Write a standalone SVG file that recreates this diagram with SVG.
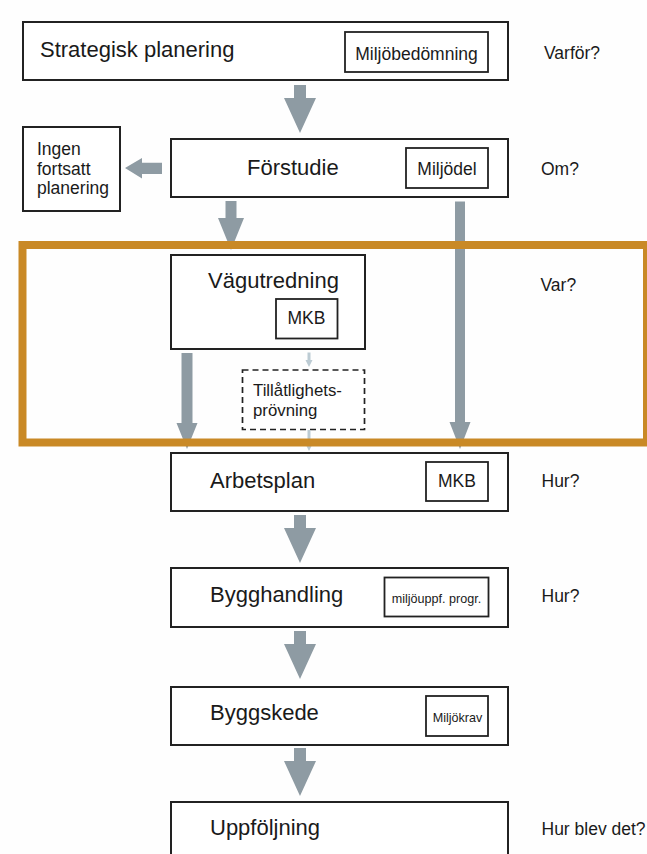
<svg xmlns="http://www.w3.org/2000/svg" width="647" height="854" viewBox="0 0 647 854">
<style>
  .box{fill:#ffffff;stroke:#222222;stroke-width:2}
  .ibox{fill:#ffffff;stroke:#222222;stroke-width:1.8}
  .dash{fill:#ffffff;stroke:#222222;stroke-width:1.7;stroke-dasharray:6 4}
  .t{font-family:"Liberation Sans",Arial,sans-serif;fill:#1a1a1a}
  .big{font-size:22px}
  .mid{font-size:17.5px}
  .tl{font-size:16.8px}
  .sm{font-size:12.6px}
  .arr{fill:#8e9ba3}
  .larr{fill:#bccbd3}
  .frame{fill:none;stroke:#c98926;stroke-width:8}
</style>
<rect x="0" y="0" width="647" height="854" fill="#fefefe"/>

<g id="strategisk">
  <rect class="box" x="23" y="22" width="485" height="58"/>
  <text class="t big" x="40" y="57">Strategisk planering</text>
  <rect class="ibox" x="345" y="32" width="143" height="40"/>
  <text class="t mid" x="416.5" y="60" text-anchor="middle">Miljöbedömning</text>
</g>
<g id="forstudie">
  <rect class="box" x="171" y="139" width="337" height="58"/>
  <text class="t big" x="247" y="175">Förstudie</text>
  <rect class="ibox" x="406" y="148" width="82" height="40"/>
  <text class="t mid" x="447" y="175" text-anchor="middle">Miljödel</text>
</g>
<g id="ingen">
  <rect class="box" x="23" y="127" width="97" height="84"/>
  <text class="t mid" x="37" y="155">Ingen</text>
  <text class="t mid" x="37" y="174.5">fortsatt</text>
  <text class="t mid" x="37" y="193.5">planering</text>
</g>
<g id="vagutredning">
  <rect class="box" x="171" y="255" width="194" height="94"/>
  <text class="t big" x="208" y="288">Vägutredning</text>
  <rect class="ibox" x="276" y="299" width="61.5" height="39.5"/>
  <text class="t mid" x="306.5" y="324" text-anchor="middle">MKB</text>
</g>
<g id="tillatlighet">
  <rect class="dash" x="242.5" y="370" width="122" height="59.5"/>
  <text class="t tl" x="253" y="396">Tillåtlighets-</text>
  <text class="t tl" x="253" y="416">prövning</text>
</g>
<g id="arbetsplan">
  <rect class="box" x="171" y="453" width="337" height="58"/>
  <text class="t big" x="210" y="488">Arbetsplan</text>
  <rect class="ibox" x="426" y="462" width="62" height="39"/>
  <text class="t mid" x="457" y="487" text-anchor="middle">MKB</text>
</g>
<g id="bygghandling">
  <rect class="box" x="171" y="568" width="337" height="59"/>
  <text class="t big" x="210" y="602">Bygghandling</text>
  <rect class="ibox" x="384.5" y="577.5" width="104" height="39"/>
  <text class="t sm" x="436.5" y="602.5" text-anchor="middle">miljöuppf. progr.</text>
</g>
<g id="byggskede">
  <rect class="box" x="171" y="687" width="337" height="58"/>
  <text class="t big" x="210" y="720">Byggskede</text>
  <rect class="ibox" x="426" y="696" width="62" height="40"/>
  <text class="t sm" x="457.5" y="721.5" text-anchor="middle">Miljökrav</text>
</g>
<g id="uppfoljning">
  <rect class="box" x="171" y="802" width="337" height="70"/>
  <text class="t big" x="210" y="835">Uppföljning</text>
</g>
<g id="questions">
  <text class="t mid" x="544" y="59">Varför?</text>
  <text class="t mid" x="541" y="175">Om?</text>
  <text class="t mid" x="540.5" y="291">Var?</text>
  <text class="t mid" x="541.5" y="487">Hur?</text>
  <text class="t mid" x="541.5" y="602">Hur?</text>
  <text class="t mid" x="541.5" y="835">Hur blev det?</text>
</g>

<g id="connectors">
  <polygon class="arr" points="294,85 306,85 306,98 316,98 300,133 284,98 294,98"/>
  <polygon class="arr" points="294,515 306,515 306,528 316,528 300,563 284,528 294,528"/>
  <polygon class="arr" points="294,631 306,631 306,644 316,644 300,679 284,644 294,644"/>
  <polygon class="arr" points="294,748 306,748 306,761 316,761 300,796 284,761 294,761"/>
  <polygon class="arr" points="162,162.7 162,174 142,174 142,178.5 125,168 142,158 142,162.7"/>
  <polygon class="arr" points="225.5,201 236.5,201 236.5,218 244,218 231,250 218,218 225.5,218"/>
  <polygon class="arr" points="181.5,353 192.5,353 192.5,423 197.5,423 187,449 176.5,423 181.5,423"/>
  <polygon class="arr" points="455,201.5 465,201.5 465,422 470.5,422 460,449 449.5,422 455,422"/>
  <polygon class="larr" points="307.5,352.5 310.5,352.5 310.5,360 312.5,360 309,367 305.5,360 307.5,360"/>
  <polygon class="larr" points="307.5,430 310.5,430 310.5,444 312.5,444 309,451 305.5,444 307.5,444"/>
</g>

<rect id="frame" class="frame" x="22.5" y="245" width="624.5" height="197.5"/>
</svg>
